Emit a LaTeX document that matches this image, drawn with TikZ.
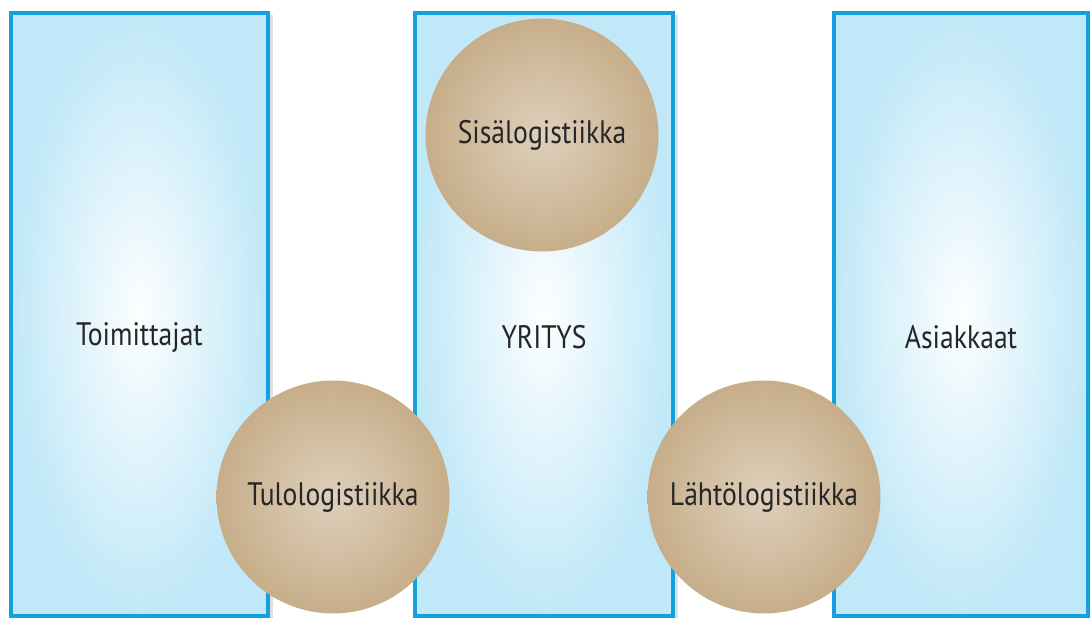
\documentclass[tikz,border=0pt]{standalone}
\usepackage{fontspec}
\setmainfont{PT Sans}[FakeStretch=0.85]
\usepackage{tikz}
\usetikzlibrary{shadows}

\definecolor{frameblue}{RGB}{18,160,222}
\definecolor{paleblue}{RGB}{192,232,248}
\definecolor{sandtan}{RGB}{199,174,138}
\definecolor{sandlight}{RGB}{222,208,188}

\tikzset{
  column/.style={draw=frameblue, line width=2pt, shading=radial,
    inner color=white!96!paleblue, outer color=paleblue,
    drop shadow={shadow xshift=3pt, shadow yshift=-1pt, opacity=.25, fill=gray},
    minimum width=#1*0.02cm, minimum height=12.06cm, inner sep=0pt},
  stage/.style={circle, shading=radial, inner color=sandlight, outer color=sandtan,
    minimum size=4.66cm, inner sep=0pt, text=black!85,
    font=\fontsize{18.5}{22}\selectfont},
  caption/.style={text=black!85, font=\fontsize{18.5}{22}\selectfont}
}

\begin{document}
\begin{tikzpicture}[x=0.02cm,y=-0.02cm]
        \useasboundingbox (0,0) rectangle (1090,618);

        \node[column=257] (supp) at (139.5,314.5) {};
        \node[column=258] (firm) at (544,314.5) {};
        \node[column=254] (cust) at (961,314.5) {};

        \node[caption] (supplabel) at (139.5,337) {Toimittajat};
        \node[caption] (firmlabel) at (544,337) {YRITYS};
        \node[caption] (custlabel) at (961,337) {Asiakkaat};

        \node[stage] (inner) at (542,135) {Sisälogistiikka};
        \node[stage] (inbound) at (333,497) {Tulologistiikka};
        \node[stage] (outbound) at (764,497) {Lähtölogistiikka};
\end{tikzpicture}
\end{document}
